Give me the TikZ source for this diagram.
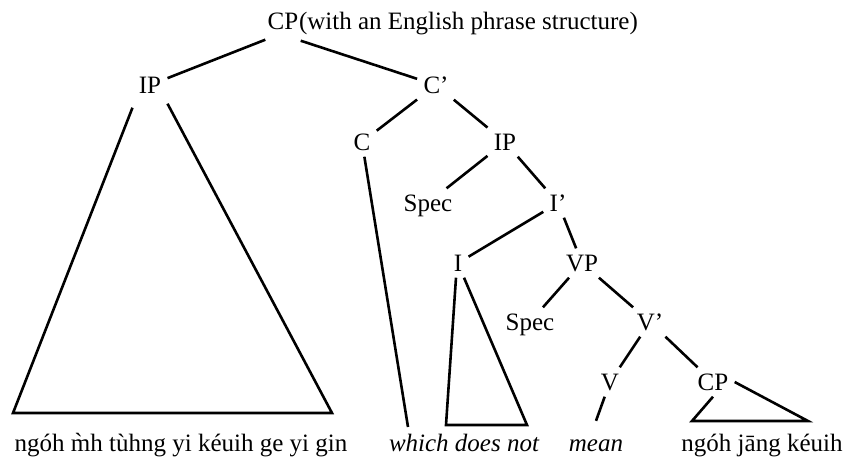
\documentclass[tikz,border=0pt]{standalone}
\usepackage{fontspec}
\setmainfont{Liberation Serif}
\usetikzlibrary{calc}
\tikzset{
  cat/.style={inner sep=3pt, text height=8.3pt, text depth=0pt, font=\fontsize{12.5}{15}\selectfont},
  leaf/.style={inner sep=3pt, anchor=base, font=\fontsize{12.5}{15}\selectfont},
  gloss/.style={leaf, font=\fontsize{12.5}{15}\selectfont\itshape},
  branch/.style={line width=1.3pt, line join=miter}
}

\begin{document}
\begin{tikzpicture}[x=0.5pt, y=-0.5pt]
    \useasboundingbox (0,0) rectangle (846,457);

    % Root
    \node[cat] (cp) at (283,21) {CP};
    \node[cat, anchor=base west, inner xsep=0pt] (cpnote) at ([xshift=-3pt]cp.base east) {(with an English phrase structure)};

    % Categories
    \node[cat] (ipl) at (150,85) {IP};
    \node[cat] (cbar) at (436,85) {C'};
    \node[cat] (c) at (362,142) {C};
    \node[cat] (ipm) at (505,142) {IP};
    \node[cat] (spec1) at (428,203) {Spec};
    \node[cat] (ibar) at (558,203) {I'};
    \node[cat] (i) at (458,263) {I};
    \node[cat] (vp) at (582,263) {VP};
    \node[cat] (spec2) at (530,322) {Spec};
    \node[cat] (vbar) at (650,322) {V'};
    \node[cat] (v) at (610,382) {V};
    \node[cat] (cpl) at (713,382) {CP};

    % Words
    \node[leaf] (w1) at (181,451) {ngóh m̀h tùhng yi kéuih ge yi gin};
    \node[gloss] (which) at (464,451) {which does not};
    \node[gloss] (mean) at (596,451) {mean};
    \node[leaf] (w4) at (762,451) {ngóh jāng kéuih};

    % Triangle corners
    \coordinate (ipl-bl) at (13,413);
    \coordinate (ipl-br) at (332,413);
    \coordinate (c-end) at (408,427);
    \coordinate (i-bl) at (446,425);
    \coordinate (i-br) at (527,425);
    \coordinate (cpl-bl) at (692,421);
    \coordinate (cpl-br) at (808,421);

    % Branches
    \draw[branch] ([shift={(2pt,-2pt)}]cp.south west) -- (ipl);
    \draw[branch] ([shift={(-2pt,-2.5pt)}]cp.south east) -- (cbar);
    \draw[branch] (cbar) -- (c);
    \draw[branch] (cbar) -- (ipm);
    \draw[branch] (ipm) -- (spec1);
    \draw[branch] (ipm) -- (ibar);
    \draw[branch] (ibar) -- (i);
    \draw[branch] (ibar) -- (vp);
    \draw[branch] (vp) -- (spec2);
    \draw[branch] (vp) -- (vbar);
    \draw[branch] (vbar) -- (v);
    \draw[branch] (vbar) -- (cpl);

    % Terminal lines and triangles
    \draw[branch] ([yshift=-4pt]ipl.south west) -- (ipl-bl) -- (ipl-br) -- ([yshift=-2pt]ipl.south east);
    \draw[branch] (c) -- (c-end);
    \draw[branch] ([xshift=-1pt]i.south) -- (i-bl) -- (i-br) -- ([xshift=3pt]i.south);
    \draw[branch] (v) -- ([yshift=6pt]mean.north);
    \draw[branch] (cpl.south) -- (cpl-bl) -- (cpl-br) -- (cpl.east);

\end{tikzpicture}
\end{document}
